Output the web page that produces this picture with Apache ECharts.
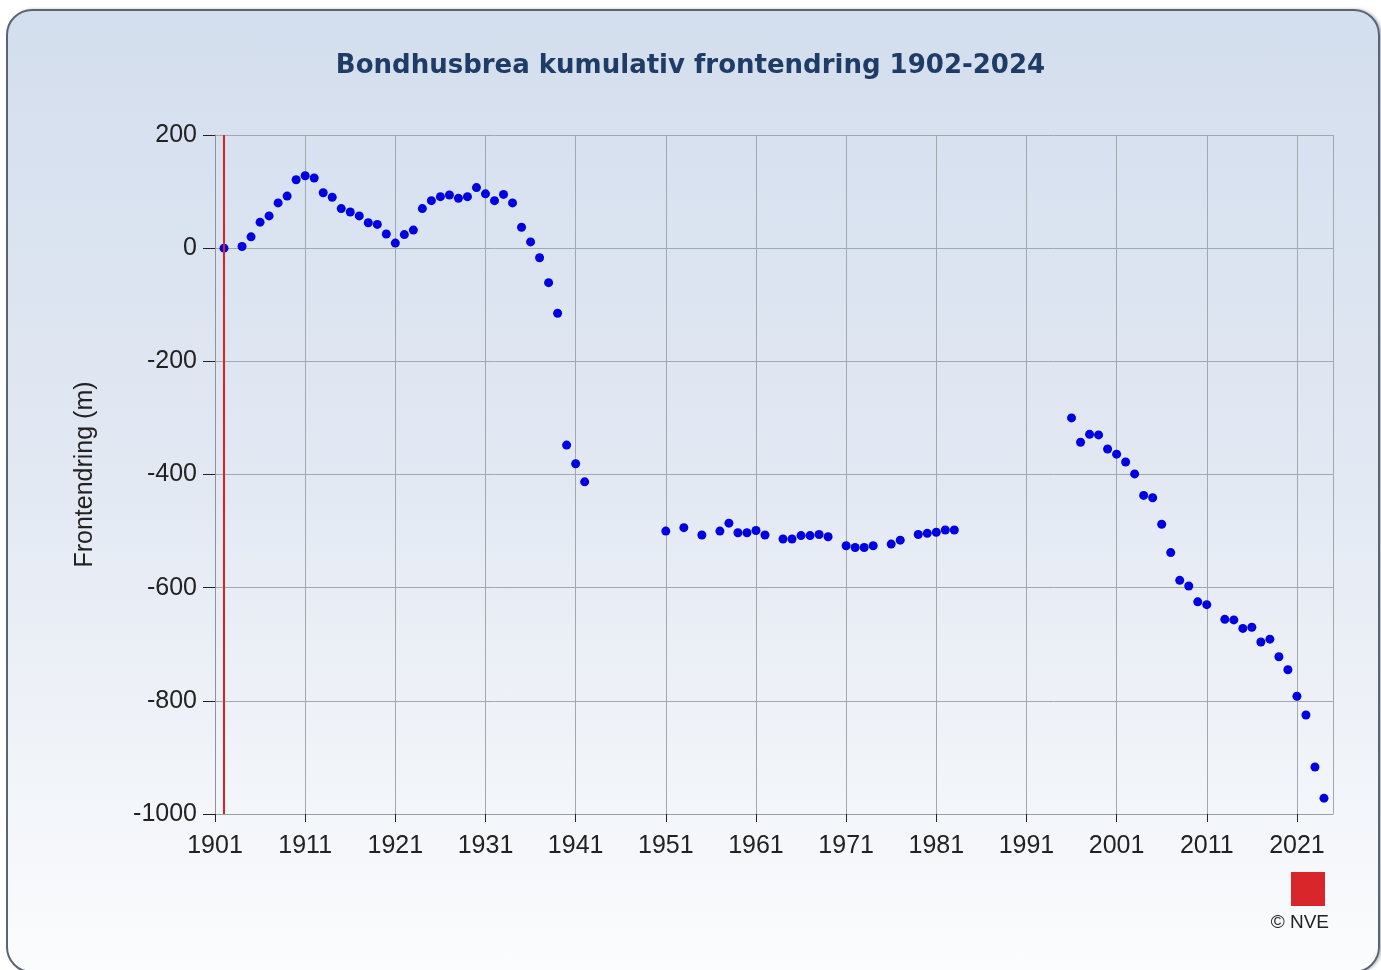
<!DOCTYPE html>
<html lang="no">
<head>
    <meta charset="UTF-8">
    <title>Bondhusbrea</title>
    <script type="text/javascript" src="https://cdn.jsdelivr.net/npm/echarts@6/dist/echarts.min.js"></script>
    <style>
        html, body {
            width: 100%;
            height: 100%;
            margin: 0;
            padding: 0;
            background: #fff;
            overflow: hidden;
        }
        #frame {
            position: absolute;
            left: 6px;
            top: 9px;
            width: 1370px;
            height: 960px;
            border: 2px solid #5b6473;
            border-radius: 26px;
            background: linear-gradient(to bottom, #d3deee 0%, #e3e9f3 50%, #fbfcfd 100%);
            box-shadow: 2px 0 3px #b8bec8;
        }
        #main {
            position: absolute;
            left: 0;
            top: 0;
            width: 1381px;
            height: 970px;
        }
    </style>
</head>
<body>
    <div id="frame"></div>
    <div id="main"></div>
    <script>
        // år og kumulativ frontendring (m)
        var years = [
            1902, 1904, 1905, 1906, 1907, 1908, 1909, 1910, 1911, 1912,
            1913, 1914, 1915, 1916, 1917, 1918, 1919, 1920, 1921, 1922,
            1923, 1924, 1925, 1926, 1927, 1928, 1929, 1930, 1931, 1932,
            1933, 1934, 1935, 1936, 1937, 1938, 1939, 1940, 1941, 1942,
            1951, 1953, 1955, 1957, 1958, 1959, 1960, 1961, 1962, 1964,
            1965, 1966, 1967, 1968, 1969, 1971, 1972, 1973, 1974, 1976,
            1977, 1979, 1980, 1981, 1982, 1983,
            1996, 1997, 1998, 1999, 2000, 2001, 2002, 2003, 2004, 2005,
            2006, 2007, 2008, 2009, 2010, 2011, 2013, 2014, 2015, 2016,
            2017, 2018, 2019, 2020, 2021, 2022, 2023, 2024
        ];
        var frontChange = [
            0, 3, 20, 46, 57, 80, 92, 121, 128, 124,
            98, 90, 70, 64, 57, 45, 42, 25, 9, 24,
            32, 70, 84, 91, 94, 88, 91, 107, 96, 84,
            95, 80, 37, 11, -17, -61, -115, -348, -381, -413,
            -500, -494, -507, -500, -486, -503, -503, -499, -507, -514,
            -514, -508, -508, -506, -510, -526, -529, -529, -526, -523,
            -516, -506, -504, -502, -498, -498,
            -300, -343, -329, -330, -355, -364, -378, -399, -437, -441,
            -488, -538, -587, -597, -625, -630, -656, -657, -672, -670,
            -696, -691, -722, -745, -792, -825, -917, -972
        ];
        var startYear = 1902;

        var points = years.map(function (y, i) { return [y, frontChange[i]]; });

        var myChart = echarts.init(document.getElementById('main'));
        var fontName = 'Liberation Sans';

        var option = {
            backgroundColor: 'transparent',
            animation: false,
            title: {
                text: 'Bondhusbrea kumulativ frontendring 1902-2024',
                left: 'center',
                top: 48,
                textStyle: {
                    color: '#1f3c66',
                    fontFamily: 'DejaVu Sans',
                    fontWeight: 'bold',
                    fontSize: 26
                }
            },
            grid: {
                left: 215,
                right: 48,
                top: 135,
                bottom: 156
            },
            xAxis: {
                type: 'value',
                min: 1901,
                max: 2025,
                interval: 10,
                axisLine: { show: true, onZero: false, lineStyle: { color: '#9a9ea5' } },
                axisTick: { show: true, length: 8, lineStyle: { color: '#222' } },
                axisLabel: {
                    color: '#222',
                    fontFamily: fontName,
                    fontSize: 25,
                    margin: 20,
                    showMaxLabel: false,
                    formatter: function (v) { return String(v); }
                },
                splitLine: { show: true, lineStyle: { color: '#a3a7ae', width: 1 } }
            },
            yAxis: {
                type: 'value',
                min: -1000,
                max: 200,
                interval: 200,
                name: 'Frontendring (m)',
                nameLocation: 'middle',
                nameGap: 117,
                nameTextStyle: {
                    color: '#222',
                    fontFamily: fontName,
                    fontSize: 25
                },
                axisLine: { show: true, lineStyle: { color: '#8e939b' } },
                axisTick: { show: true, length: 12, lineStyle: { color: '#222' } },
                axisLabel: {
                    color: '#222',
                    fontFamily: fontName,
                    fontSize: 25,
                    margin: 18,
                    formatter: function (v) { return String(v); }
                },
                splitLine: { show: true, lineStyle: { color: '#a3a7ae', width: 1 } }
            },
            series: [{
                type: 'scatter',
                data: points,
                symbolSize: 9,
                itemStyle: { color: '#0000e0', opacity: 1 },
                markLine: {
                    silent: true,
                    symbol: 'none',
                    label: { show: false },
                    lineStyle: { color: '#e02020', width: 2, type: 'solid' },
                    data: [{ xAxis: startYear }]
                }
            }],
            graphic: [
                {
                    type: 'rect',
                    right: 56,
                    top: 872,
                    shape: { width: 34, height: 34 },
                    style: { fill: '#d9262b' }
                },
                {
                    type: 'text',
                    right: 52,
                    top: 913,
                    style: {
                        text: '© NVE',
                        fill: '#222',
                        font: '19px "Liberation Sans"'
                    }
                }
            ]
        };
        myChart.setOption(option);

        window.addEventListener('resize', function () {
            myChart.resize();
        });
    </script>
</body>
</html>
